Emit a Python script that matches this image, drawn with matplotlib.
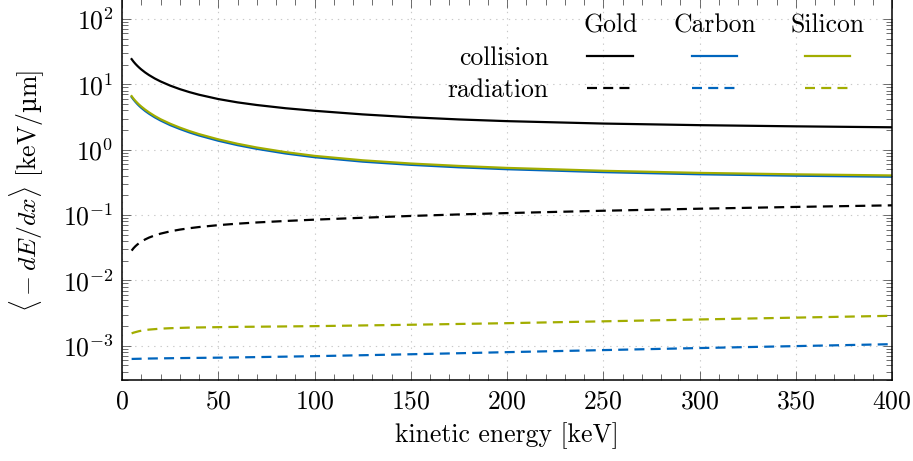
import numpy as np
import matplotlib
matplotlib.use("Agg")
import matplotlib.pyplot as plt
from matplotlib.ticker import MultipleLocator, LogLocator, FuncFormatter, NullFormatter
from matplotlib.lines import Line2D

# kinetic energy samples [keV]
energy = [5, 6, 7, 8, 9, 10, 12, 14, 17, 20, 25, 30, 35, 40, 50, 60, 70, 85,
          100, 125, 150, 175, 200, 250, 300, 350, 400]

# mean stopping power [keV/um]
gold_collision = [24.3, 22.22, 20.54, 19.14, 17.95, 16.92, 15.22, 13.88, 12.30,
                  11.09, 9.57, 8.46, 7.61, 6.94, 5.96, 5.30, 4.83, 4.31,
                  3.94, 3.47, 3.14, 2.905, 2.736, 2.513, 2.375, 2.278, 2.203]
carbon_collision = [6.40, 5.84, 5.38, 4.99, 4.66, 4.38, 3.92, 3.56, 3.13,
                    2.80, 2.38, 2.08, 1.84, 1.651, 1.372, 1.175, 1.031, 0.875,
                    0.768, 0.657, 0.587, 0.538, 0.503, 0.454, 0.421, 0.400, 0.386]
silicon_collision = [6.60, 6.02, 5.57, 5.19, 4.86, 4.58, 4.11, 3.73, 3.28,
                     2.93, 2.50, 2.18, 1.93, 1.733, 1.440, 1.233, 1.081, 0.919,
                     0.805, 0.689, 0.615, 0.565, 0.527, 0.476, 0.442, 0.420, 0.404]

gold_radiation = [0.0286, 0.03116, 0.03345, 0.03552, 0.03741, 0.03919, 0.04238,
                  0.04522, 0.04887, 0.05198, 0.05633, 0.05993, 0.06296, 0.06562,
                  0.07016, 0.07391, 0.07711, 0.08126, 0.0851, 0.0910, 0.0970,
                  0.1023, 0.1073, 0.1165, 0.1252, 0.1333, 0.141]
carbon_radiation = [0.000630, 0.000631, 0.000632, 0.000633, 0.000634, 0.000635,
                    0.000637, 0.000639, 0.000641, 0.000643, 0.000646, 0.000649,
                    0.000652, 0.000654, 0.000659, 0.000665, 0.000672, 0.000683,
                    0.000695, 0.000718, 0.000743, 0.000770, 0.000800, 0.000860,
                    0.000925, 0.000990, 0.00106]
silicon_radiation = [0.00155, 0.00159, 0.00162, 0.00165, 0.00168, 0.00170, 0.00174,
                     0.00177, 0.00180, 0.00183, 0.00186, 0.00188, 0.00190, 0.00191,
                     0.00193, 0.00195, 0.00196, 0.00198, 0.00200, 0.00205, 0.00210,
                     0.00216, 0.00222, 0.00237, 0.00253, 0.00270, 0.00288]

materials = ["Gold", "Carbon", "Silicon"]
colors = {"Gold": "black", "Carbon": "#0065BD", "Silicon": "#A2AD00"}
collision = {"Gold": gold_collision, "Carbon": carbon_collision, "Silicon": silicon_collision}
radiation = {"Gold": gold_radiation, "Carbon": carbon_radiation, "Silicon": silicon_radiation}

plt.rcParams["font.family"] = ["cmr10", "DejaVu Serif"]
plt.rcParams["mathtext.fontset"] = "cm"
plt.rcParams["axes.formatter.use_mathtext"] = True
plt.rcParams["font.size"] = 18.5

fig = plt.figure(figsize=(9.13, 4.61), dpi=100)
ax = fig.add_axes([122 / 913, 1 - 380 / 461, 770 / 913, 380.7 / 461])

LW = 1.6
DASH = (4.5, 2.8)

for m in ["Carbon", "Silicon", "Gold"]:
    ax.plot(energy, collision[m], color=colors[m], lw=LW, solid_joinstyle="round")
    ax.plot(energy, radiation[m], color=colors[m], lw=LW, dashes=DASH)

ax.set_yscale("log")
ax.set_xlim(0, 400)
ax.set_ylim(3e-4, 200)

ax.xaxis.set_major_locator(MultipleLocator(50))
ax.xaxis.set_minor_locator(MultipleLocator(10))
ax.yaxis.set_major_locator(LogLocator(base=10, numticks=20))
ax.yaxis.set_minor_locator(LogLocator(base=10, subs=np.arange(2, 10), numticks=20))
ax.yaxis.set_major_formatter(FuncFormatter(lambda v, p: r"$10^{%d}$" % round(np.log10(v))))
ax.yaxis.set_minor_formatter(NullFormatter())

ax.tick_params(which="both", direction="in", top=True, right=True,
               color="#555555", width=0.6)
ax.tick_params(which="major", length=6.5, labelsize=18.5)
ax.tick_params(axis="x", which="major", pad=7)
ax.tick_params(axis="y", which="major", pad=6)
ax.tick_params(which="minor", length=4.2)

for s in ax.spines.values():
    s.set_linewidth(1.1)
    s.set_color("black")

ax.grid(True, which="major", color="#c8c8c8", lw=0.8, ls=(0, (1.2, 4.5)))
ax.set_axisbelow(True)

ax.set_xlabel("kinetic energy [keV]", labelpad=6)

# y label in pieces so the micro sign can come from a font that has it
ylabel_parts = [("$\\langle - dE/dx\\rangle$ [keV/", None),
                ("\u00b5", "DejaVu Serif"),
                ("m]", None)]
label_x = 36.7 / 913
label_center = 1 - 190 / 461
pieces = []
for txt, fam in ylabel_parts:
    kw = dict(rotation=90, rotation_mode="anchor", ha="left", va="baseline")
    if fam:
        kw["family"] = fam
        kw["fontsize"] = 17.5
    pieces.append(fig.text(label_x, 0, txt, **kw))
fig.canvas.draw()
renderer = fig.canvas.get_renderer()
heights = [p.get_window_extent(renderer).height / fig.bbox.height for p in pieces]
y = label_center - sum(heights) / 2
for p, h in zip(pieces, heights):
    p.set_position((label_x, y))
    y += h

# matrix-style legend: materials as columns, loss type as rows
col_x = {"Gold": 0.634, "Carbon": 0.7695, "Silicon": 0.916}
half = 0.0295
for m in materials:
    ax.text(col_x[m], 0.9115, m, ha="center", va="baseline", transform=ax.transAxes)
    ax.add_line(Line2D([col_x[m] - half, col_x[m] + half], [0.851, 0.851],
                       color=colors[m], lw=LW, transform=ax.transAxes))
    ax.add_line(Line2D([col_x[m] - half, col_x[m] + half], [0.768, 0.768],
                       color=colors[m], lw=LW, dashes=DASH, transform=ax.transAxes))
ax.text(0.5545, 0.827, "collision", ha="right", va="baseline", transform=ax.transAxes)
ax.text(0.5545, 0.7445, "radiation", ha="right", va="baseline", transform=ax.transAxes)

fig.savefig("out.png", dpi=100)
